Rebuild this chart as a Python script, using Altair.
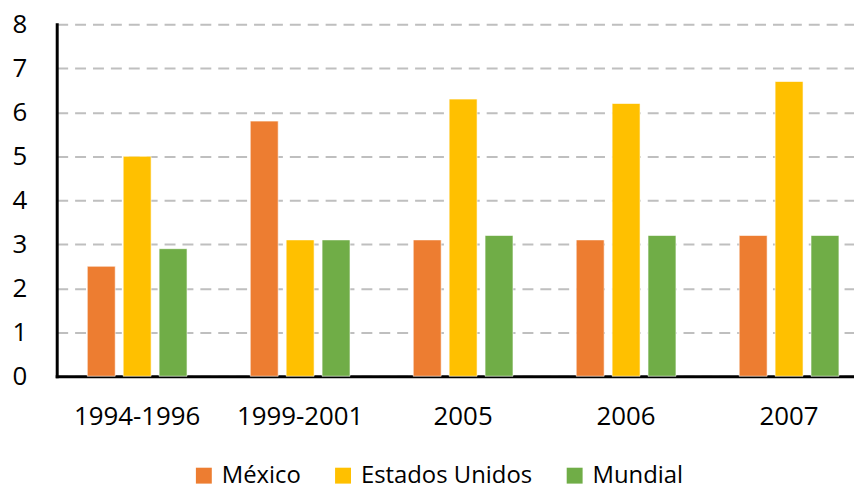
import altair as alt
import pandas as pd

categories = ["1994-1996", "1999-2001", "2005", "2006", "2007"]
series = ["México", "Estados Unidos", "Mundial"]
mexico = [2.5, 5.8, 3.1, 3.1, 3.2]
eeuu = [5.0, 3.1, 6.3, 6.2, 6.7]
mundial = [2.9, 3.1, 3.2, 3.2, 3.2]
colors = ["#ED7D31", "#FFC000", "#70AD47"]
y_ticks = [0, 1, 2, 3, 4, 5, 6, 7, 8]

rows = []
for name, vals in zip(series, [mexico, eeuu, mundial]):
    for c, v in zip(categories, vals):
        rows.append({"periodo": c, "serie": name, "valor": v})
df = pd.DataFrame(rows)

FONT = "Open Sans"

chart = alt.Chart(df).mark_bar(stroke="white", strokeWidth=1, strokeOpacity=0.6).encode(
    x=alt.X("periodo:N", sort=categories, title=None,
            scale=alt.Scale(paddingInner=0.388, paddingOuter=0.14, align=0.67),
            axis=alt.Axis(labelAngle=0, labelFontSize=26, labelFont=FONT, labelColor="#000000",
                          domainColor="#000000", domainWidth=3, ticks=False, labelPadding=28,
                          grid=False)),
    xOffset=alt.XOffset("serie:N", sort=series,
                        scale=alt.Scale(paddingInner=0.222, paddingOuter=0)),
    y=alt.Y("valor:Q", title=None,
            scale=alt.Scale(domain=[0, 8], nice=False),
            axis=alt.Axis(values=y_ticks, labelFontSize=26, labelFont=FONT, labelColor="#000000",
                          domainColor="#000000", domainWidth=3, ticks=False, labelPadding=30,
                          gridColor="#BFBFBF", gridWidth=2, gridDash=[11, 7])),
    color=alt.Color("serie:N", sort=series,
                    scale=alt.Scale(domain=series, range=colors),
                    legend=alt.Legend(title=None, orient="none", direction="horizontal",
                                      legendX=136, legendY=442, padding=0,
                                      symbolType="square", symbolSize=256, symbolStrokeWidth=0,
                                      labelFontSize=24, labelFont=FONT, labelColor="#000000",
                                      labelLimit=400,
                                      columnPadding=30, labelOffset=6)),
).properties(
    width=802, height=354,
    padding={"left": 4, "top": 2, "right": 0, "bottom": 0},
).configure_view(stroke=None).configure_axis(
    domainCap="square"
)

chart.save("out.html", embed_options={"renderer": "svg", "actions": False})
